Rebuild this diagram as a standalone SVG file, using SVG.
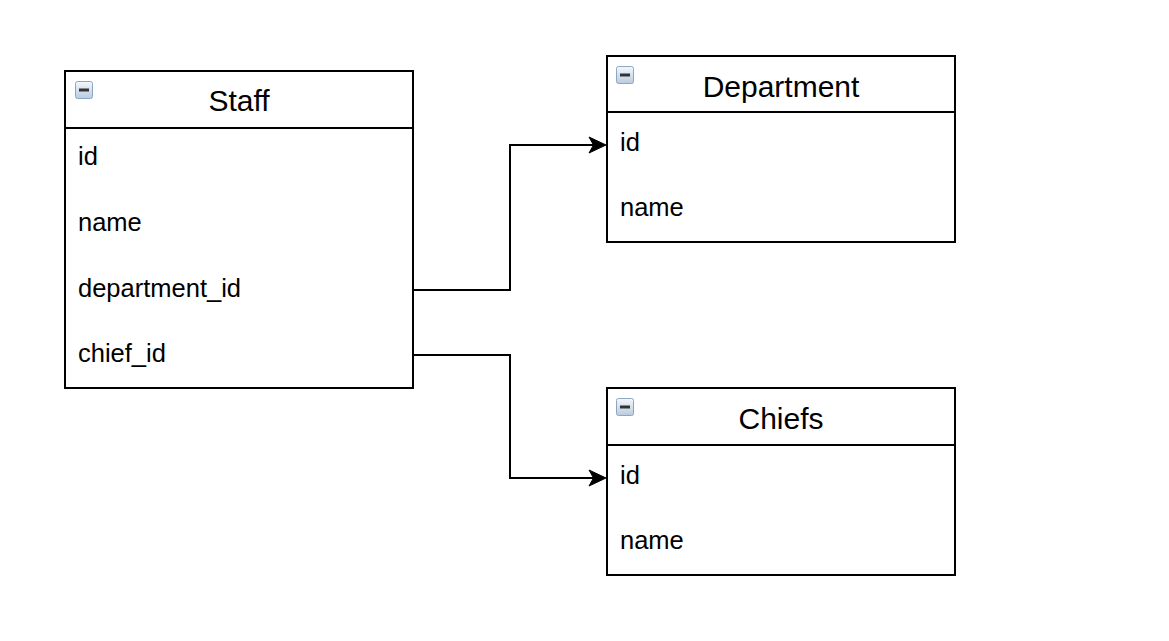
<svg xmlns="http://www.w3.org/2000/svg" width="1169" height="641" viewBox="0 0 1169 641">
<style>
.box{fill:#fff;stroke:#000;stroke-width:2}
.sep{stroke:#000;stroke-width:2}
.title{font-family:"Liberation Sans",Arial,sans-serif;font-size:30px;text-anchor:middle;fill:#000}
.field{font-family:"Liberation Sans",Arial,sans-serif;font-size:25.5px;fill:#000}
.edge{fill:none;stroke:#000;stroke-width:2}
.head{fill:#000;stroke:#000;stroke-width:1}
</style>
<defs>
<linearGradient id="ig" x1="0" y1="0" x2="0" y2="1">
<stop offset="0" stop-color="#f4f8fc"/>
<stop offset="1" stop-color="#b9cbe0"/>
</linearGradient>
<g id="icon">
<rect x="0.5" y="0.5" width="17" height="17" rx="2" fill="url(#ig)" stroke="#8da6c4" stroke-width="1"/>
<rect x="4" y="7.5" width="10" height="3" fill="#333"/>
</g>
<path id="ah" class="head" d="M0,0 L-17,-8 L-12.5,0 L-17,8 Z"/>
</defs>
<rect width="1169" height="641" fill="#fff"/>
<g id="connectors">
<path class="edge" d="M413,290 H510 V145 H596"/>
<use href="#ah" x="606" y="145"/>
<path class="edge" d="M413,355 H510 V478 H596"/>
<use href="#ah" x="606" y="478"/>
</g>
<g id="staff">
<rect class="box" x="65" y="71" width="348" height="317"/>
<line class="sep" x1="65" y1="128" x2="413" y2="128"/>
<use href="#icon" x="75" y="81"/>
<text class="title" x="239" y="111">Staff</text>
<text class="field" x="78" y="165">id</text>
<text class="field" x="78" y="231">name</text>
<text class="field" x="78" y="297">department_id</text>
<text class="field" x="78" y="362">chief_id</text>
</g>
<g id="department">
<rect class="box" x="607" y="56" width="348" height="186"/>
<line class="sep" x1="607" y1="112" x2="955" y2="112"/>
<use href="#icon" x="616" y="66"/>
<text class="title" x="781" y="97">Department</text>
<text class="field" x="620" y="151">id</text>
<text class="field" x="620" y="216">name</text>
</g>
<g id="chiefs">
<rect class="box" x="607" y="388" width="348" height="187"/>
<line class="sep" x1="607" y1="445" x2="955" y2="445"/>
<use href="#icon" x="616" y="398"/>
<text class="title" x="781" y="429">Chiefs</text>
<text class="field" x="620" y="484">id</text>
<text class="field" x="620" y="549">name</text>
</g>
</svg>
